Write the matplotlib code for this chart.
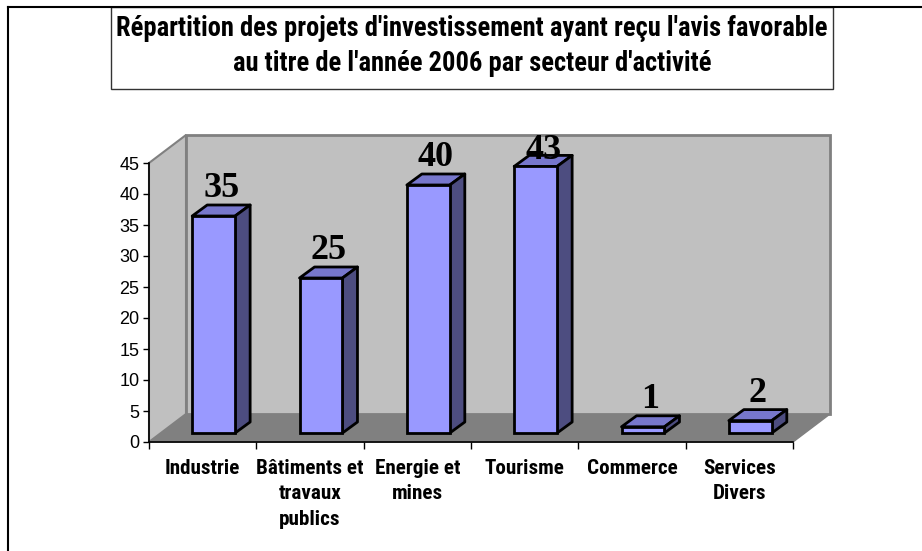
import matplotlib
matplotlib.use('Agg')
import matplotlib.pyplot as plt
from matplotlib.patches import Polygon, Rectangle
from matplotlib.lines import Line2D
from matplotlib import font_manager

# Data
categories = ['Industrie', 'Bâtiments et\ntravaux\npublics', 'Energie et\nmines',
              'Tourisme', 'Commerce', 'Services\nDivers']
values = [35, 25, 40, 43, 1, 2]
yticks = [0, 5, 10, 15, 20, 25, 30, 35, 40, 45]
title = ("Répartition des projets d'investissement ayant reçu l'avis favorable\n"
         "au titre de l'année 2006 par secteur d'activité")

# pick a condensed bold sans (Arial Narrow Bold look-alike)
bold_fonts = {f.name for f in font_manager.fontManager.ttflist
              if f.weight in (700, 'bold')}
narrow = 'Liberation Sans'
for name in ['Liberation Sans Narrow', 'Arial Narrow', 'Roboto Condensed', 'PT Sans Narrow',
             'Archivo Narrow', 'Barlow Semi Condensed', 'Asap Condensed']:
    if name in bold_fonts:
        narrow = name
        break

W, H = 922, 551
fig = plt.figure(figsize=(W / 100, H / 100), dpi=100)
renderer = fig.canvas.get_renderer()


def fit_size(s, target_px):
    # font size giving text s a width of target_px
    t = fig.text(0, 0, s, family=narrow, fontweight='bold', fontsize=10)
    w = t.get_window_extent(renderer).width
    t.remove()
    return 10 * target_px / w


title_fs = fit_size(title.split('\n')[0], 712)
label_fs = fit_size('Bâtiments et', 107)

ax = fig.add_axes([149 / W, 1 - 442 / H, 644 / W, 279 / H])
ax.set_xlim(0, len(categories))
ax.set_ylim(0, 45)

# pixel -> data unit helpers for the fake 3d depth
px_x = 644 / len(categories)
px_y = 279 / 45
WALL_DX, WALL_DY = 37 / px_x, 28 / px_y
BAR_OFF_X, BAR_OFF_Y = 11 / px_x, 9 / px_y
BAR_DX, BAR_DY = 15 / px_x, 11 / px_y
BAR_W = 0.40
LABEL_GAP = 8 / px_y
LABEL_MAX = 45 + WALL_DY - 24 / px_y  # labels may not rise above the back wall

wall_edge = '#808080'
n = len(categories)

# floor
floor = Polygon([(0, 0), (n, 0), (n + WALL_DX, WALL_DY), (WALL_DX, WALL_DY)],
                closed=True, facecolor='#808080', edgecolor=wall_edge, lw=1, clip_on=False, zorder=1)
ax.add_patch(floor)
# left side wall
side = Polygon([(0, 0), (0, 45), (WALL_DX, 45 + WALL_DY), (WALL_DX, WALL_DY)],
               closed=True, facecolor='#C0C0C0', edgecolor=wall_edge, lw=1.5, clip_on=False, zorder=1)
ax.add_patch(side)
# back wall
back = Polygon([(WALL_DX, WALL_DY), (WALL_DX, 45 + WALL_DY), (n + WALL_DX, 45 + WALL_DY), (n + WALL_DX, WALL_DY)],
               closed=True, facecolor='#C0C0C0', edgecolor=wall_edge, lw=2, clip_on=False, zorder=1)
ax.add_patch(back)

# bars: front faces
xs = [i + 0.5 + BAR_OFF_X for i in range(n)]
ax.bar(xs, values, width=BAR_W, bottom=BAR_OFF_Y, color='#9999FF',
       edgecolor='black', linewidth=2, zorder=4, clip_on=False)

for x, v in zip(xs, values):
    x0, x1 = x - BAR_W / 2, x + BAR_W / 2
    y0, y1 = BAR_OFF_Y, BAR_OFF_Y + v
    top = Polygon([(x0, y1), (x1, y1), (x1 + BAR_DX, y1 + BAR_DY), (x0 + BAR_DX, y1 + BAR_DY)],
                  closed=True, facecolor='#7777CC', edgecolor='black', lw=2, joinstyle='round',
                  clip_on=False, zorder=3)
    rside = Polygon([(x1, y0), (x1, y1), (x1 + BAR_DX, y1 + BAR_DY), (x1 + BAR_DX, y0 + BAR_DY)],
                    closed=True, facecolor='#4D4D80', edgecolor='black', lw=2, joinstyle='round',
                    clip_on=False, zorder=3)
    ax.add_patch(top)
    ax.add_patch(rside)
    ly = min(y1 + BAR_DY + LABEL_GAP, LABEL_MAX)
    ax.text(x + BAR_DX / 2, ly, str(v), ha='center', va='baseline',
            fontsize=26, fontweight='bold', family='Liberation Serif', zorder=6, clip_on=False)

# axes styling
for s in ['top', 'right']:
    ax.spines[s].set_visible(False)
for s in ['left', 'bottom']:
    ax.spines[s].set_color('black')
    ax.spines[s].set_linewidth(1.2)
    ax.spines[s].set_zorder(5)
ax.set_facecolor('none')

ax.set_yticks(yticks)
ax.set_yticklabels([str(t) for t in yticks], family='Liberation Sans', fontsize=13)
ax.tick_params(axis='y', direction='out', length=4, width=1, pad=3)

ax.set_xticks([i + 0.5 for i in range(n)])
ax.set_xticklabels(categories, family=narrow, fontsize=label_fs, fontweight='bold',
                   linespacing=1.45, va='top')
ax.set_xticks(range(n + 1), minor=True)
ax.tick_params(axis='x', which='major', length=0, pad=12)
ax.tick_params(axis='x', which='minor', direction='out', length=5, width=1)

# outer chart border (left and top edges visible)
fig.add_artist(Line2D([8 / W, 8 / W], [0, 1 - 7 / H], color='black', lw=1.5, transform=fig.transFigure))
fig.add_artist(Line2D([8 / W, 1], [1 - 7 / H, 1 - 7 / H], color='black', lw=1.5, transform=fig.transFigure))

# title box
fig.add_artist(Rectangle((111 / W, 1 - 89 / H), 722 / W, 82 / H, transform=fig.transFigure,
                         facecolor='white', edgecolor='#333333', lw=1))
fig.text(472 / W, 1 - 46 / H, title, ha='center', va='center', family=narrow,
         fontsize=title_fs, fontweight='bold', linespacing=1.4)

fig.savefig('out.png', dpi=100)
